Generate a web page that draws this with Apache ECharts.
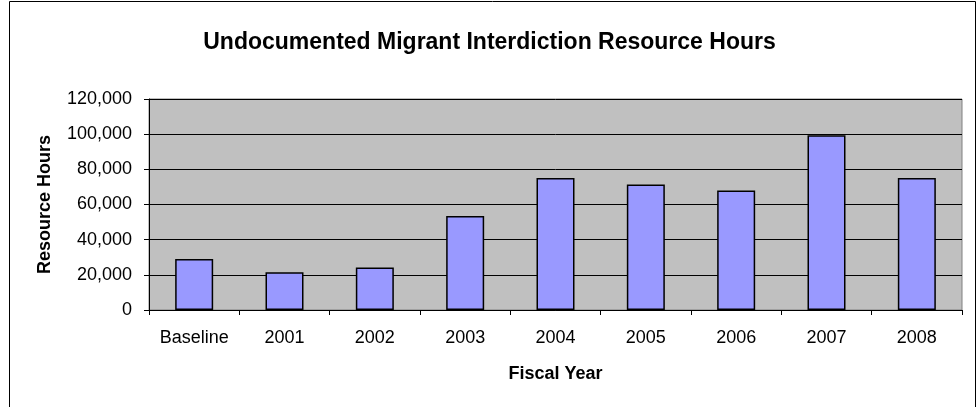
<!DOCTYPE html>
<html>
<head>
<meta charset="utf-8">
<script src="https://cdn.jsdelivr.net/npm/echarts@6/dist/echarts.min.js"></script>
<style>
  html, body { margin: 0; padding: 0; background: #fff; }
  #chart { width: 979px; height: 407px; }
</style>
</head>
<body>
<div id="chart"></div>
<script>
var years = ['Baseline', '2001', '2002', '2003', '2004', '2005', '2006', '2007', '2008'];
var hours = [29000, 21500, 24100, 53400, 75100, 71400, 68000, 99400, 75100];

var font = '"Liberation Sans", Arial, sans-serif';

echarts.init(document.getElementById('chart')).setOption({
  animation: false,
  backgroundColor: '#fff',
  title: {
    text: 'Undocumented Migrant Interdiction Resource Hours',
    left: 'center',
    top: 26,
    textStyle: { fontFamily: font, fontSize: 23, fontWeight: 'bold', color: '#000' }
  },
  graphic: [{
    type: 'rect',
    shape: { x: 9.5, y: 1.5, width: 966, height: 420 },
    style: { fill: 'none', stroke: '#000', lineWidth: 1 },
    silent: true
  }],
  grid: {
    show: true,
    left: 149,
    right: 17,
    top: 99,
    bottom: 97,
    backgroundColor: '#C0C0C0',
    borderColor: '#808080',
    borderWidth: 1
  },
  xAxis: {
    type: 'category',
    data: years,
    name: 'Fiscal Year',
    nameLocation: 'middle',
    nameGap: 55,
    nameTextStyle: { fontFamily: font, fontSize: 18, fontWeight: 'bold', color: '#000' },
    axisLine: { lineStyle: { color: '#000', width: 1 } },
    axisTick: { show: true, length: 5, lineStyle: { color: '#000' } },
    axisLabel: { fontFamily: font, fontSize: 18, color: '#000', margin: 19 }
  },
  yAxis: {
    type: 'value',
    min: 0,
    max: 120000,
    interval: 20000,
    name: 'Resource Hours',
    nameLocation: 'middle',
    nameRotate: 90,
    nameGap: 95,
    nameTextStyle: { fontFamily: font, fontSize: 18, fontWeight: 'bold', color: '#000' },
    axisLine: { show: true, lineStyle: { color: '#000', width: 1 } },
    axisTick: { show: true, length: 5, lineStyle: { color: '#000' } },
    axisLabel: {
      fontFamily: font, fontSize: 18, color: '#000', margin: 17,
      formatter: function(v) { return v.toLocaleString('en-US'); }
    },
    splitLine: { show: true, lineStyle: { color: '#000', width: 1 } }
  },
  series: [{
    type: 'bar',
    data: hours,
    barWidth: 38,
    itemStyle: { color: '#9999FF', borderColor: '#000', borderWidth: 1.5 }
  }]
});
</script>
</body>
</html>
